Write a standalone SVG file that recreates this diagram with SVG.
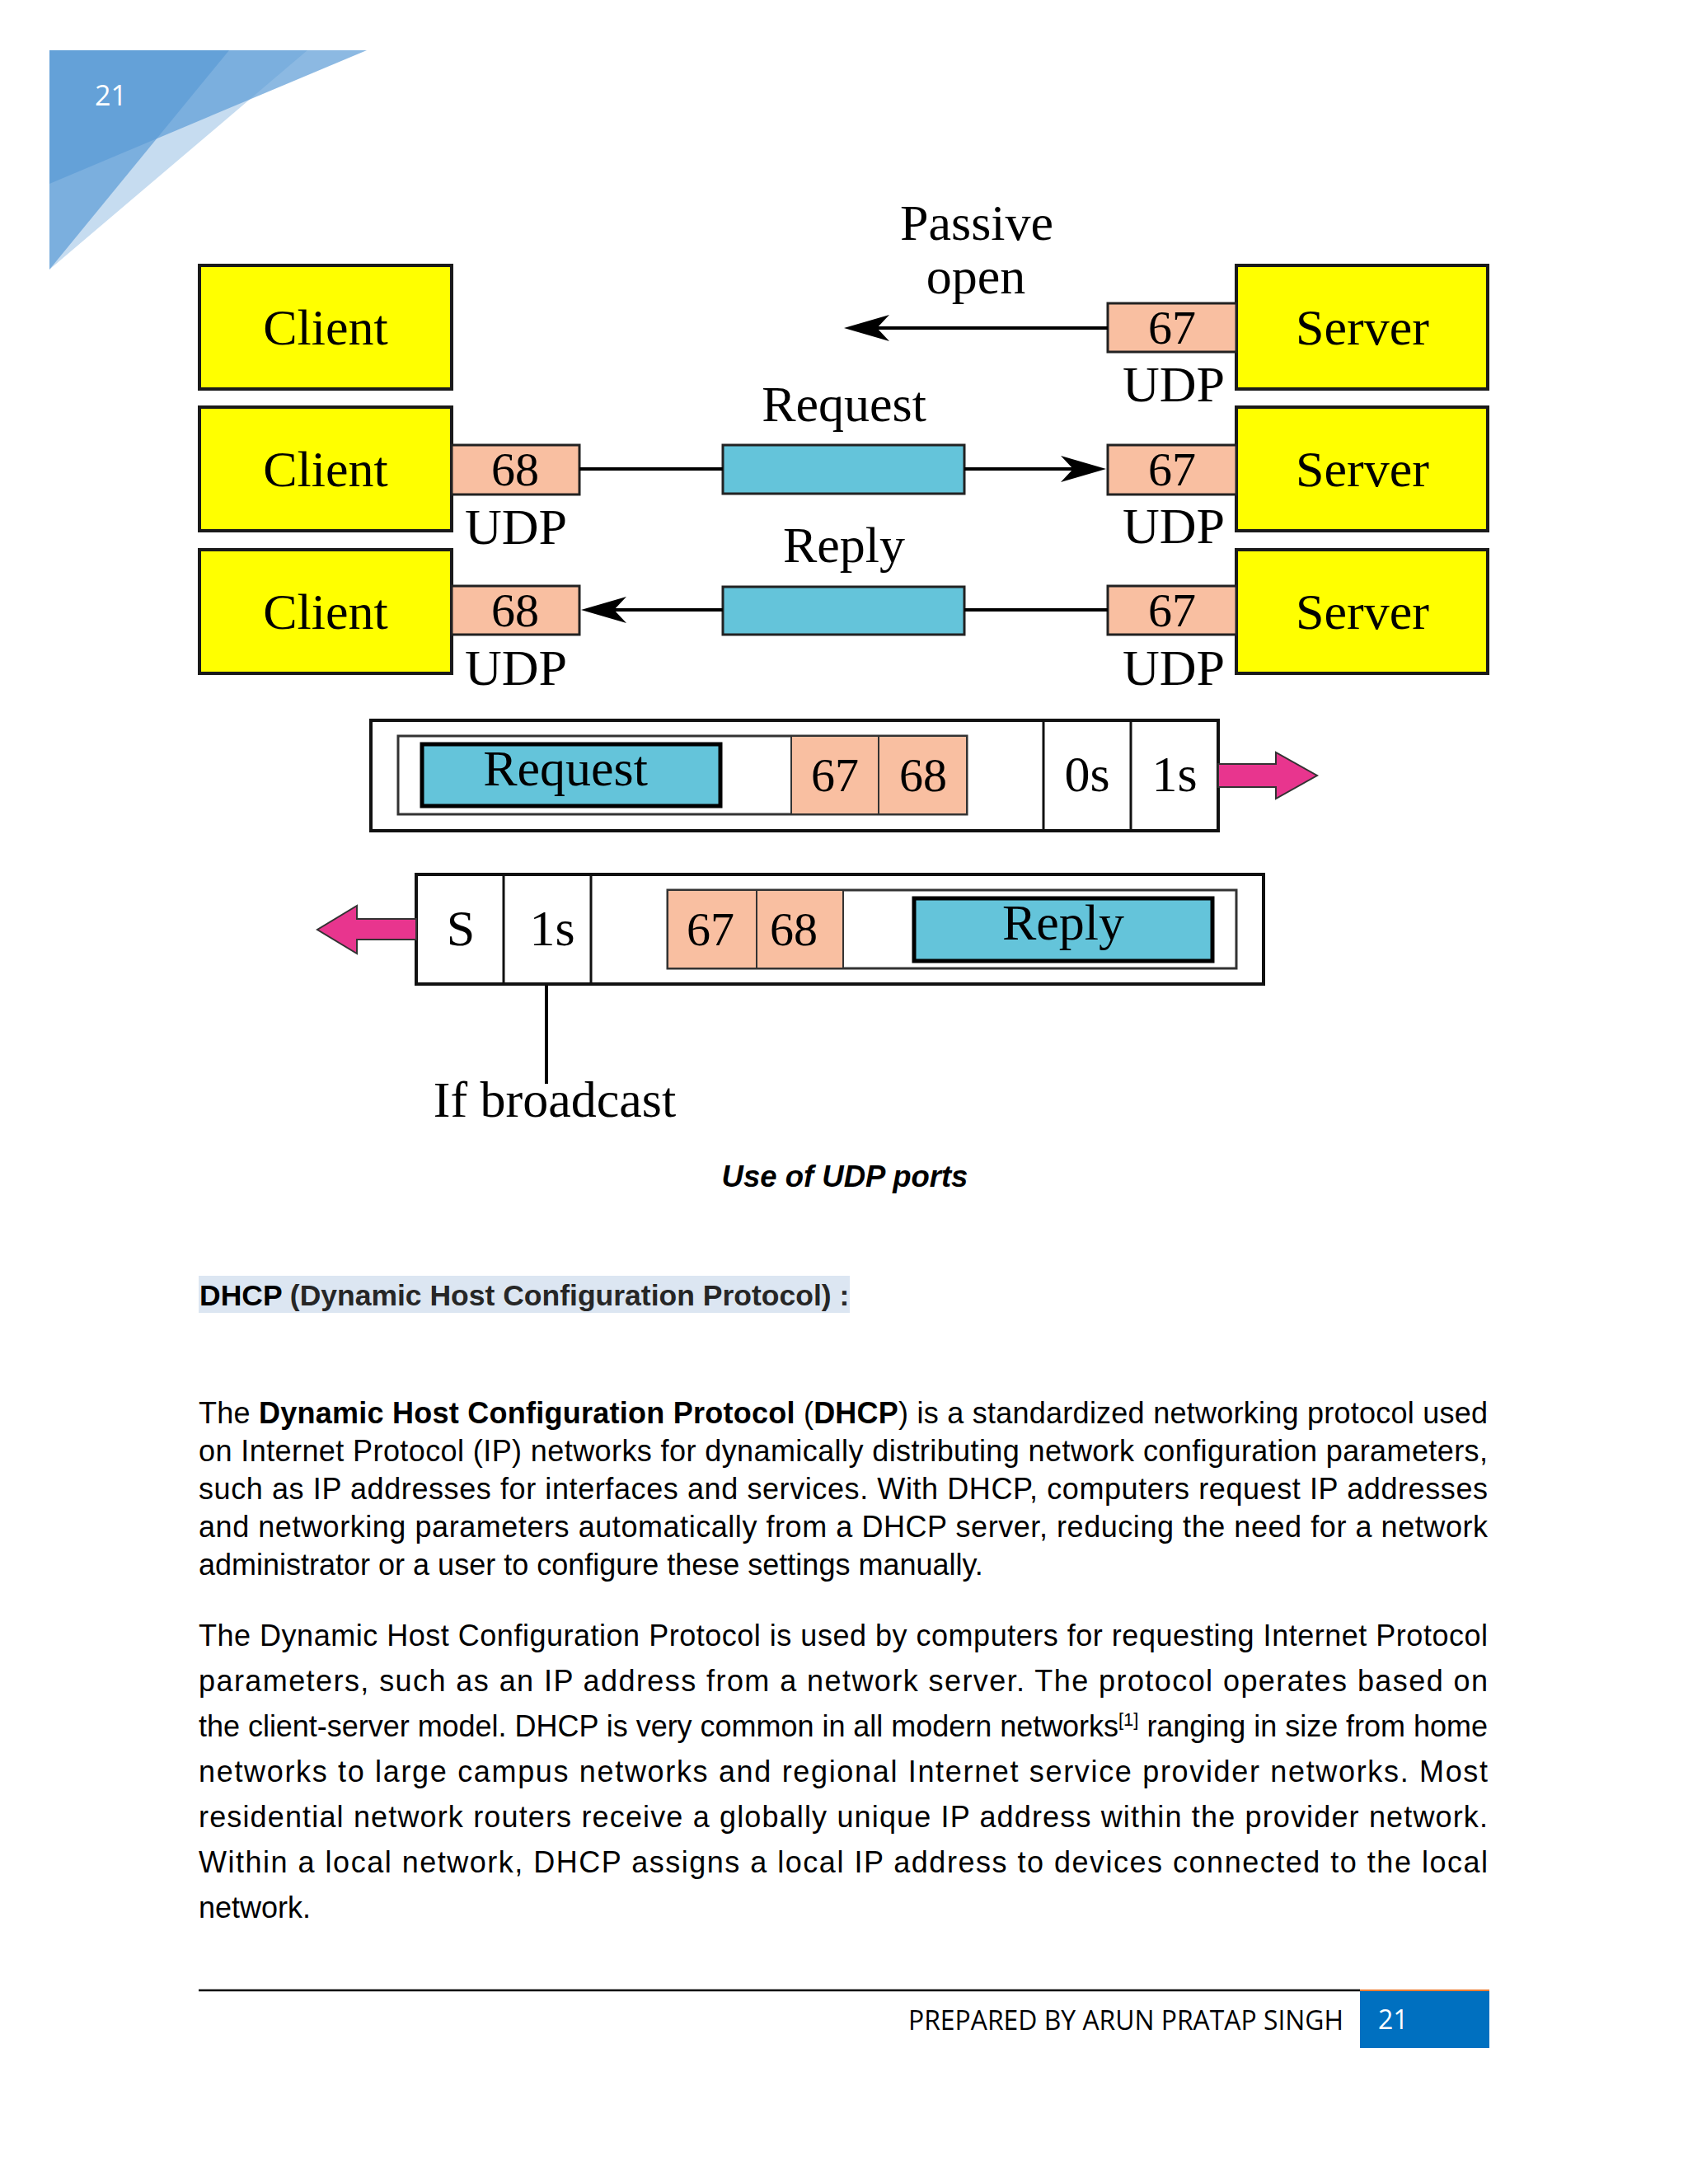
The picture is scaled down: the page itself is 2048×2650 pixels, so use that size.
<svg xmlns="http://www.w3.org/2000/svg" width="2048" height="2650" viewBox="0 0 2048 2650">
<style>
.box{fill:#ffff00;stroke:#1a1a1a;stroke-width:4}
.port{fill:#f9bfa1;stroke:#222;stroke-width:3}
.msg{fill:#64c4da;stroke:#222;stroke-width:3}
.frame{fill:#fff;stroke:#111;stroke-width:4}
.inner{fill:#fff;stroke:#333;stroke-width:3}
.cell{fill:#f9bfa1;stroke:#333;stroke-width:2}
.lbl{font-family:"Liberation Serif","Times New Roman",serif;font-size:62px;fill:#000;text-anchor:middle}
.num{font-family:"Liberation Serif","Times New Roman",serif;font-size:58px;fill:#000;text-anchor:middle}
.conn{stroke:#000;stroke-width:4;fill:none}
.body{font-family:"Liberation Sans",Arial,sans-serif;font-size:36px;fill:#000}
.pink{fill:#e8358e;stroke:#333;stroke-width:2}
</style>
<defs>
<marker id="ah" viewBox="-16 -17 57 34" refX="0" refY="0" markerWidth="57" markerHeight="34" markerUnits="userSpaceOnUse" orient="auto">
<path d="M40,0 L-15,-16 L0,0 L-15,16 Z" fill="#000"/>
</marker>
</defs>
<rect x="0" y="0" width="2048" height="2650" fill="#fff"/>

<g id="header">
<polygon points="60,61 373,61 60,327" fill="#5b9bd5" fill-opacity="0.35"/>
<polygon points="60,61 445,61 60,223" fill="#5b9bd5" fill-opacity="0.7"/>
<polygon points="60,61 278,61 60,327" fill="#5b9bd5" fill-opacity="0.7"/>
<text x="115" y="128" font-family="'Open Sans','Liberation Sans',sans-serif" font-size="34" fill="#fff">21</text>
</g>

<g id="client1"><rect class="box" x="242" y="322" width="306" height="150"/><text class="lbl" x="395" y="418">Client</text></g>
<g id="client2"><rect class="box" x="242" y="494" width="306" height="150"/><text class="lbl" x="395" y="590">Client</text></g>
<g id="client3"><rect class="box" x="242" y="667" width="306" height="150"/><text class="lbl" x="395" y="763">Client</text></g>
<g id="server1"><rect class="box" x="1500" y="322" width="305" height="150"/><text class="lbl" x="1653" y="418">Server</text></g>
<g id="server2"><rect class="box" x="1500" y="494" width="305" height="150"/><text class="lbl" x="1653" y="590">Server</text></g>
<g id="server3"><rect class="box" x="1500" y="667" width="305" height="150"/><text class="lbl" x="1653" y="763">Server</text></g>

<g id="port-c2"><rect class="port" x="548" y="540" width="155" height="60"/><text class="num" x="625" y="589">68</text><text class="lbl" x="626" y="660">UDP</text></g>
<g id="port-c3"><rect class="port" x="548" y="711" width="155" height="59"/><text class="num" x="625" y="760">68</text><text class="lbl" x="626" y="831">UDP</text></g>
<g id="port-s1"><rect class="port" x="1344" y="368" width="156" height="59"/><text class="num" x="1422" y="417">67</text><text class="lbl" x="1424" y="487">UDP</text></g>
<g id="port-s2"><rect class="port" x="1344" y="540" width="156" height="60"/><text class="num" x="1422" y="589">67</text><text class="lbl" x="1424" y="659">UDP</text></g>
<g id="port-s3"><rect class="port" x="1344" y="711" width="156" height="59"/><text class="num" x="1422" y="760">67</text><text class="lbl" x="1424" y="831">UDP</text></g>

<g id="passive-label"><text class="lbl" x="1185" y="291">Passive</text><text class="lbl" x="1184" y="356">open</text></g>
<g id="request-msg"><rect class="msg" x="877" y="540" width="293" height="59"/><text class="lbl" x="1024" y="511">Request</text></g>
<g id="reply-msg"><rect class="msg" x="877" y="712" width="293" height="58"/><text class="lbl" x="1024" y="682">Reply</text></g>

<g id="connectors">
<line class="conn" x1="1344" y1="398" x2="1064" y2="398" marker-end="url(#ah)"/>
<line class="conn" x1="703" y1="569" x2="877" y2="569"/>
<line class="conn" x1="1170" y1="569" x2="1302" y2="569" marker-end="url(#ah)"/>
<line class="conn" x1="1344" y1="740" x2="1170" y2="740"/>
<line class="conn" x1="877" y1="740" x2="745" y2="740" marker-end="url(#ah)"/>
<line class="conn" x1="663" y1="1194" x2="663" y2="1315"/>
</g>

<g id="request-packet">
<rect class="frame" x="450" y="874" width="1028" height="134"/>
<line x1="1266" y1="874" x2="1266" y2="1008" stroke="#111" stroke-width="3"/>
<line x1="1372" y1="874" x2="1372" y2="1008" stroke="#111" stroke-width="3"/>
<rect class="inner" x="483" y="893" width="690" height="95"/>
<rect class="cell" x="960" y="893" width="106" height="95"/>
<rect class="cell" x="1066" y="893" width="107" height="95"/>
<rect x="512" y="903" width="362" height="75" fill="#64c4da" stroke="#000" stroke-width="5"/>
<text class="lbl" x="686" y="953">Request</text>
<text class="num" x="1013" y="960">67</text>
<text class="num" x="1120" y="960">68</text>
<text class="lbl" x="1319" y="960">0s</text>
<text class="lbl" x="1425" y="960">1s</text>
<polygon class="pink" points="1478,927 1548,927 1548,913 1598,941 1548,969 1548,955 1478,955"/>
</g>

<g id="reply-packet">
<rect class="frame" x="505" y="1061" width="1028" height="133"/>
<line x1="611" y1="1061" x2="611" y2="1194" stroke="#111" stroke-width="3"/>
<line x1="717" y1="1061" x2="717" y2="1194" stroke="#111" stroke-width="3"/>
<rect class="inner" x="810" y="1080" width="690" height="95"/>
<rect class="cell" x="810" y="1080" width="108" height="95"/>
<rect class="cell" x="918" y="1080" width="105" height="95"/>
<rect x="1109" y="1090" width="362" height="76" fill="#64c4da" stroke="#000" stroke-width="5"/>
<text class="lbl" x="1290" y="1140">Reply</text>
<text class="num" x="862" y="1147">67</text>
<text class="num" x="963" y="1147">68</text>
<text class="lbl" x="559" y="1147">S</text>
<text class="lbl" x="670" y="1147">1s</text>
<polygon class="pink" points="505,1115 433,1115 433,1099 385,1128 433,1157 433,1140 505,1140"/>
</g>

<g id="broadcast-label"><text class="lbl" x="673" y="1355">If broadcast</text></g>

<g id="text">
<text x="1025" y="1440" font-family="'Liberation Sans',Arial,sans-serif" font-size="36.5" font-weight="bold" font-style="italic" text-anchor="middle">Use of UDP ports</text>
<rect x="241" y="1548" width="790" height="45" fill="#dce6f2"/>
<text x="242" y="1584" font-family="'Liberation Sans',Arial,sans-serif" font-size="35.5" font-weight="bold"><tspan fill="#000">DHCP</tspan><tspan fill="#262626"> (Dynamic Host Configuration Protocol) :</tspan></text>

<text class="body" x="241" y="1727" textLength="1564" lengthAdjust="spacing">The <tspan font-weight="bold">Dynamic Host Configuration Protocol</tspan> (<tspan font-weight="bold">DHCP</tspan>) is a standardized networking protocol used</text>
<text class="body" x="241" y="1773" textLength="1564" lengthAdjust="spacing">on Internet Protocol (IP) networks for dynamically distributing network configuration parameters,</text>
<text class="body" x="241" y="1819" textLength="1564" lengthAdjust="spacing">such as IP addresses for interfaces and services. With DHCP, computers request IP addresses</text>
<text class="body" x="241" y="1865" textLength="1564" lengthAdjust="spacing">and networking parameters automatically from a DHCP server, reducing the need for a network</text>
<text class="body" x="241" y="1911">administrator or a user to configure these settings manually.</text>

<text class="body" x="241" y="1997" textLength="1564" lengthAdjust="spacing">The Dynamic Host Configuration Protocol is used by computers for requesting Internet Protocol</text>
<text class="body" x="241" y="2052" textLength="1564" lengthAdjust="spacing">parameters, such as an IP address from a network server. The protocol operates based on</text>
<text class="body" x="241" y="2107" textLength="1564" lengthAdjust="spacing">the client-server model. DHCP is very common in all modern networks<tspan font-size="22" dy="-13">[1]</tspan><tspan dy="13"> ranging in size from home</tspan></text>
<text class="body" x="241" y="2162" textLength="1564" lengthAdjust="spacing">networks to large campus networks and regional Internet service provider networks. Most</text>
<text class="body" x="241" y="2217" textLength="1564" lengthAdjust="spacing">residential network routers receive a globally unique IP address within the provider network.</text>
<text class="body" x="241" y="2272" textLength="1564" lengthAdjust="spacing">Within a local network, DHCP assigns a local IP address to devices connected to the local</text>
<text class="body" x="241" y="2327">network.</text>
</g>

<g id="footer">
<line x1="241" y1="2415" x2="1650" y2="2415" stroke="#000" stroke-width="2.5"/>
<rect x="1650" y="2415" width="157" height="70" fill="#0070c0"/>
<line x1="1650" y1="2415" x2="1807" y2="2415" stroke="#ed7d31" stroke-width="2"/>
<text x="1102" y="2463" font-family="'Open Sans','Liberation Sans',sans-serif" font-size="32" textLength="528" lengthAdjust="spacingAndGlyphs" fill="#000">PREPARED BY ARUN PRATAP SINGH</text>
<text x="1672" y="2462" font-family="'Open Sans','Liberation Sans',sans-serif" font-size="32" fill="#fff">21</text>
</g>
</svg>
